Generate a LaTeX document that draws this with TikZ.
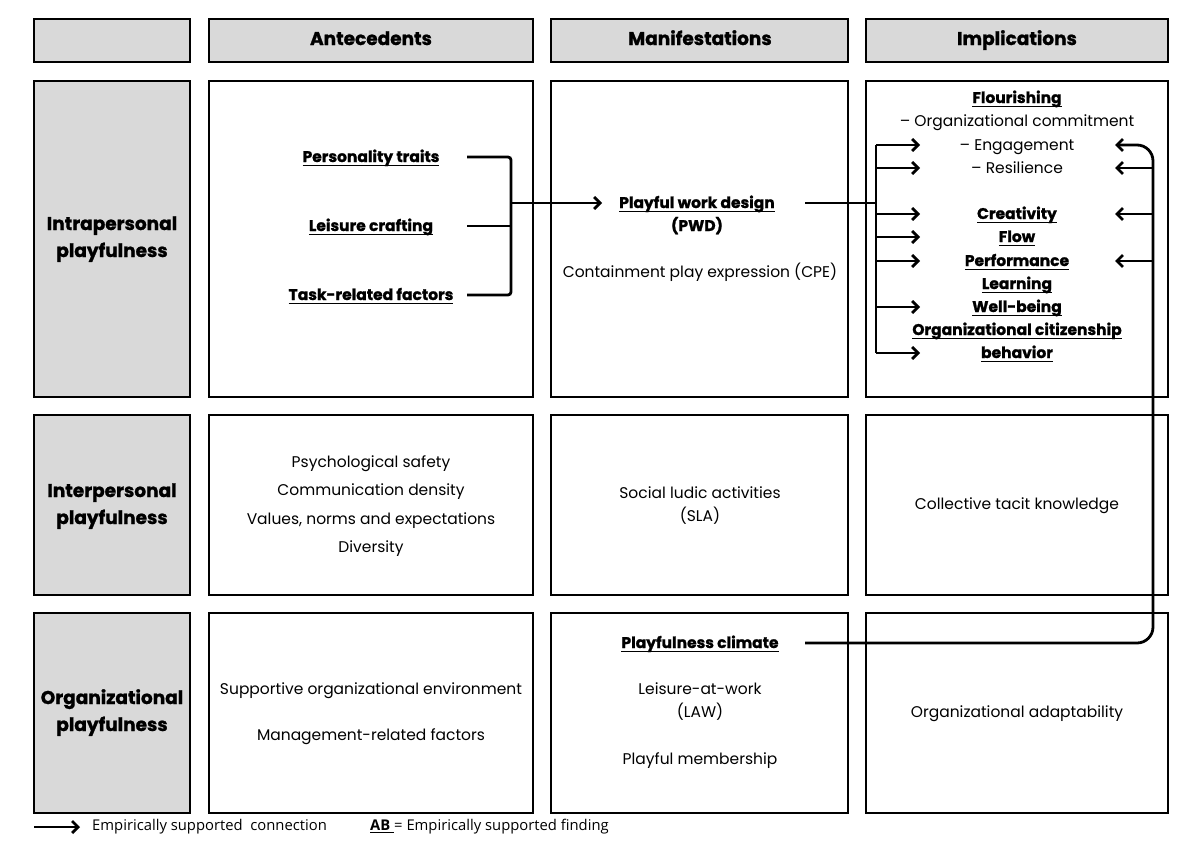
\documentclass[tikz,border=0pt]{standalone}
\usepackage{fontspec}
\setmainfont{Poppins}[BoldFeatures={FakeBold=1.2}]
\newfontfamily\legendfont{Open Sans}
\usetikzlibrary{arrows.meta}

\definecolor{cellgray}{HTML}{D9D9D9}
\newcommand{\ulb}[1]{\underline{\raisebox{0pt}[\height][0pt]{\textbf{#1}}\rule[-1.6pt]{0pt}{1.6pt}}}

\tikzset{
	cell/.style={line width=1.6pt},
	txt/.style={inner sep=0pt, text height=14pt, text depth=4pt, font=\fontsize{15.5}{18}\selectfont},
	head/.style={txt, font=\fontsize{18.5}{21}\selectfont\bfseries},
	line/.style={line width=2.8pt},
	arr/.style={line width=2.8pt, -{Straight Barb[length=6pt,width=12pt,line width=2.8pt]}},
}

\begin{document}
\begin{tikzpicture}[x=1pt, y=-1pt]
			\useasboundingbox (0,0) rectangle (1200,855);

			% grid of cells
			\begin{scope}
				\foreach \ya/\yb in {19/62, 81/397, 415/595, 613/813}
				{
					\draw[cell, fill=cellgray] (34,\ya) rectangle (190,\yb);
				}
				\foreach \xa/\xb in {209/533, 551/848, 866/1168}
				{
					\draw[cell, fill=cellgray] (\xa,19) rectangle (\xb,62);
					\foreach \ya/\yb in {81/397, 415/595, 613/813}
					{
						\draw[cell] (\xa,\ya) rectangle (\xb,\yb);
					}
				}
			\end{scope}

			% headers
			\node[head] (hAnt) at (371,40) {Antecedents};
			\node[head] (hMan) at (700,40) {Manifestations};
			\node[head] (hImp) at (1017,40) {Implications};

			\node[head] (rIntraA) at (112,225) {Intrapersonal};
			\node[head] (rIntraB) at (112,252) {playfulness};
			\node[head] (rInterA) at (112,492) {Interpersonal};
			\node[head] (rInterB) at (112,519) {playfulness};
			\node[head] (rOrgA) at (112,699) {Organizational};
			\node[head] (rOrgB) at (112,726) {playfulness};

			% intrapersonal row
			\node[txt] (pers) at (371,157) {\ulb{Personality traits}};
			\node[txt] (leis) at (371,226) {\ulb{Leisure crafting}};
			\node[txt] (task) at (371,295) {\ulb{Task-related factors}};

			\node[txt] (pwd) at (697,203) {\ulb{Playful work design}};
			\node[txt] (pwdB) at (697,226) {\textbf{(PWD)}};
			\node[txt] (cpe) at (700,272) {Containment play expression (CPE)};

			\node[txt] (flour) at (1017,98) {\ulb{Flourishing}};
			\node[txt] (comm) at (1017,121) {– Organizational commitment};
			\node[txt] (eng) at (1017,145) {– Engagement};
			\node[txt] (res) at (1017,168) {– Resilience};
			\node[txt] (cre) at (1017,214) {\ulb{Creativity}};
			\node[txt] (flo) at (1017,237) {\ulb{Flow}};
			\node[txt] (per) at (1017,261) {\ulb{Performance}};
			\node[txt] (lea) at (1017,284) {\ulb{Learning}};
			\node[txt] (wel) at (1017,307) {\ulb{Well-being}};
			\node[txt] (ocb) at (1017,330) {\ulb{Organizational citizenship}};
			\node[txt] (beh) at (1017,353) {\ulb{behavior}};

			% interpersonal row
			\node[txt] (psy) at (371,462) {Psychological safety};
			\node[txt] (cden) at (371,490) {Communication density};
			\node[txt] (vals) at (371,519) {Values, norms and expectations};
			\node[txt] (div) at (371,547) {Diversity};

			\node[txt] (sla) at (700,493) {Social ludic activities};
			\node[txt] (slaB) at (700,516) {(SLA)};

			\node[txt] (ctk) at (1017,504) {Collective tacit knowledge};

			% organizational row
			\node[txt] (supp) at (371,689) {Supportive organizational environment};
			\node[txt] (mgmt) at (371,735) {Management-related factors};

			\node[txt] (clim) at (700,643) {\ulb{Playfulness climate}};
			\node[txt] (law) at (700,689) {Leisure-at-work};
			\node[txt] (lawB) at (700,712) {(LAW)};
			\node[txt] (memb) at (700,759) {Playful membership};

			\node[txt] (adapt) at (1017,712) {Organizational adaptability};

			% connectors
			\coordinate (brkL) at (467,0);
			\coordinate (brk) at (511,0);
			\coordinate (pwdOut) at (805,0);
			\coordinate (splitL) at (876,0);
			\coordinate (tipL) at (920,0);
			\coordinate (splitR) at (1153,0);
			\coordinate (tipR) at (1115,0);

			\draw[line, rounded corners=3pt] (pers -| brkL) -- (pers -| brk) -- (task -| brk) -- (task -| brkL);
			\draw[line] (leis -| brkL) -- (leis -| brk);
			\draw[arr, shorten >=17pt] (pwd -| brk) -- (pwd.west);

			\draw[line] (pwd -| pwdOut) -- (pwd -| splitL);
			\draw[line] (eng -| splitL) -- (beh -| splitL);
			\foreach \n in {eng, res, cre, flo, per, wel, beh}
			{
				\draw[arr] (\n -| splitL) -- (\n -| tipL);
			}

			\draw[arr, rounded corners=16pt] (clim -| pwdOut) -- (clim -| splitR) -- (eng -| splitR) -- (eng -| tipR);
			\foreach \n in {res, cre, per}
			{
				\draw[arr] (\n -| splitR) -- (\n -| tipR);
			}

			% legend
			\coordinate (legA) at (34,827);
			\coordinate (legB) at (80,827);
			\draw[arr] (legA) -- (legB);
			\node[anchor=west, inner sep=0pt, font=\legendfont\fontsize{14.8}{17}\selectfont] (legArr) at (92,827) {Empirically supported\ \ connection};
			\node[anchor=west, inner sep=0pt, font=\legendfont\fontsize{14.8}{17}\selectfont] (legAB) at (370,827) {\underline{\textbf{AB }}= Empirically supported finding};
		\end{tikzpicture}
\end{document}
